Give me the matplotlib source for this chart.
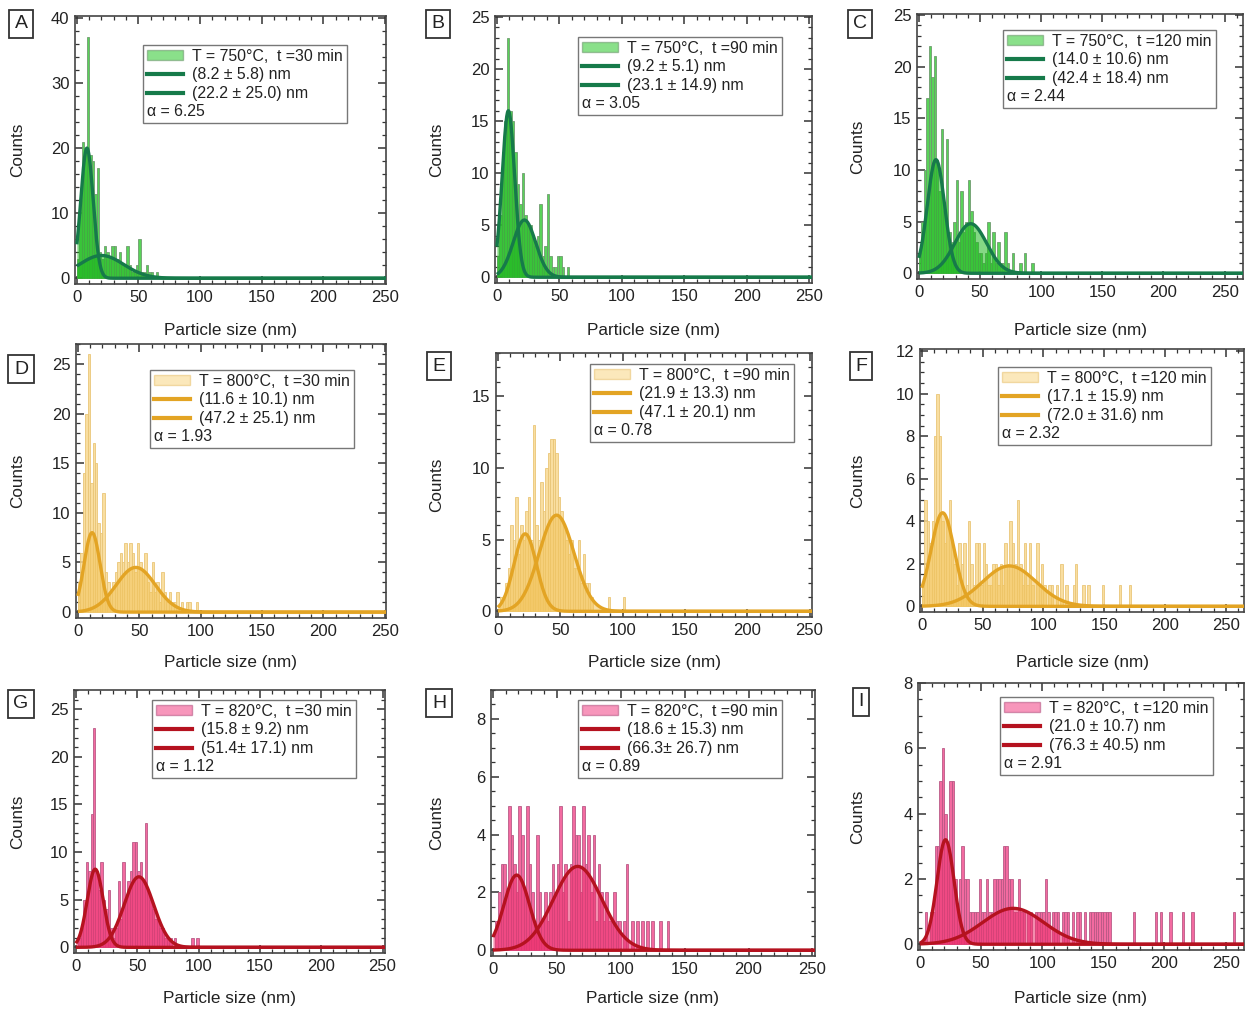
import numpy as np
import matplotlib
matplotlib.use('Agg')
import matplotlib.pyplot as plt
from matplotlib.patches import Patch
from matplotlib.lines import Line2D
from matplotlib.ticker import MultipleLocator

plt.rcParams['font.family'] = ['Liberation Sans', 'DejaVu Sans']

# ---------------- data ----------------
bin_width = 2.0  # nm, histogram bins start at 0

counts_A = [3, 12, 21, 20, 37, 19, 18, 13, 17, 4, 3, 5, 4, 3, 5, 5, 3, 4, 2, 2,
            5, 2, 1, 1, 2, 6, 1, 1, 2, 1, 1, 0, 1]
counts_B = [2, 6, 12, 15, 23, 16, 15, 12, 9, 7, 10, 6, 5, 5, 4, 3, 4, 7, 2, 3,
            8, 2, 1, 1, 2, 2, 1, 0, 1]
counts_C = [2, 5, 10, 17, 22, 19, 21, 11, 8, 14, 6, 13, 4, 3, 5, 9, 3, 8, 4, 5,
            9, 6, 4, 3, 2, 2, 1, 2, 5, 1, 4, 1, 3, 1, 1, 4, 1, 0, 2, 0,
            0, 1, 0, 2, 0, 0, 1]
counts_D = [3, 6, 14, 20, 26, 13, 17, 15, 9, 8, 12, 4, 3, 2, 3, 4, 5, 6, 5, 7,
            5, 7, 6, 4, 7, 5, 4, 6, 3, 2, 5, 2, 3, 1, 4, 2, 1, 2, 1, 1,
            2, 0, 1, 0, 1, 1, 0, 0, 1]
counts_E = [0, 1, 1, 2, 3, 6, 5, 8, 4, 6, 5, 7, 8, 5, 13, 6, 5, 9, 7, 10,
            11, 12, 12, 11, 8, 7, 6, 5, 4, 5, 3, 3, 5, 2, 4, 2, 2, 1, 0, 0,
            0, 0, 0, 0, 1, 0, 0, 0, 0, 0, 1]
counts_F = [1, 5, 4, 3, 4, 8, 10, 8, 4, 3, 4, 5, 3, 2, 1, 3, 2, 3, 1, 4,
            2, 1, 3, 3, 1, 3, 2, 1, 1, 2, 2, 1, 2, 1, 3, 2, 4, 3, 2, 5,
            2, 1, 3, 1, 3, 1, 0, 3, 1, 2, 1, 0, 1, 1, 0, 1, 0, 2, 0, 1,
            0, 0, 1, 2, 0, 0, 1, 0, 1, 0, 0, 0, 0, 0, 1, 0, 0, 0, 0, 0,
            0, 1, 0, 0, 0, 1]
counts_G = [0, 1, 2, 5, 9, 8, 14, 23, 8, 6, 9, 5, 4, 6, 2, 1, 2, 7, 3, 9,
            5, 7, 8, 11, 11, 8, 9, 7, 13, 6, 5, 4, 3, 3, 2, 2, 1, 1, 1, 0,
            1, 0, 0, 0, 0, 0, 0, 1, 0, 1]
counts_H = [0, 1, 2, 3, 3, 2, 5, 4, 3, 2, 5, 4, 2, 5, 3, 2, 1, 4, 2, 1,
            2, 1, 2, 3, 2, 3, 5, 2, 3, 1, 3, 5, 4, 4, 2, 5, 3, 4, 2, 4,
            1, 3, 2, 1, 2, 1, 1, 2, 1, 1, 0, 1, 3, 0, 1, 0, 1, 0, 1, 0,
            1, 0, 1, 0, 0, 1, 0, 0, 1]
counts_I = [0, 0, 1, 0, 1, 1, 3, 3, 5, 6, 4, 3, 5, 5, 2, 1, 2, 3, 2, 2,
            1, 1, 1, 1, 2, 1, 1, 2, 1, 1, 2, 2, 2, 2, 3, 3, 2, 2, 1, 1,
            2, 1, 1, 0, 1, 1, 0, 1, 1, 1, 1, 2, 1, 0, 1, 1, 1, 0, 1, 1,
            1, 0, 1, 0, 1, 1, 0, 1, 0, 1, 1, 1, 1, 1, 1, 1, 1, 1, 0, 0,
            0, 0, 0, 0, 0, 0, 0, 1, 0, 0, 0, 0, 0, 0, 0, 0, 1, 0, 1, 0,
            0, 0, 1, 0, 0, 0, 0, 1, 0, 0, 0, 1, 0, 0, 0, 0, 0, 0, 0, 0,
            0, 0, 0, 0, 0, 0, 0, 0, 1]

# fitted components: (centre nm, peak height, width nm)
fit_A = [(8.2, 20.0, 5.0), (20.0, 3.5, 18.0)]
fit_B = [(9.2, 16.0, 5.0), (22.0, 5.5, 9.0)]
fit_C = [(14.0, 11.0, 7.0), (42.4, 4.8, 13.0)]
fit_D = [(11.6, 8.0, 6.5), (47.2, 4.5, 16.0)]
fit_E = [(21.9, 5.4, 9.0), (47.1, 6.7, 14.0)]
fit_F = [(17.1, 4.4, 9.5), (72.0, 1.9, 22.0)]
fit_G = [(15.8, 8.2, 6.5), (51.4, 7.4, 12.0)]
fit_H = [(18.6, 2.6, 10.0), (66.3, 2.9, 19.0)]
fit_I = [(21.0, 3.2, 7.0), (76.3, 1.1, 25.0)]

titles = ['T = 750°C,  t =30 min', 'T = 750°C,  t =90 min', 'T = 750°C,  t =120 min',
          'T = 800°C,  t =30 min', 'T = 800°C,  t =90 min', 'T = 800°C,  t =120 min',
          'T = 820°C,  t =30 min', 'T = 820°C,  t =90 min', 'T = 820°C,  t =120 min']
comp1_labels = ['(8.2 ± 5.8) nm', '(9.2 ± 5.1) nm', '(14.0 ± 10.6) nm',
                '(11.6 ± 10.1) nm', '(21.9 ± 13.3) nm', '(17.1 ± 15.9) nm',
                '(15.8 ± 9.2) nm', '(18.6 ± 15.3) nm', '(21.0 ± 10.7) nm']
comp2_labels = ['(22.2 ± 25.0) nm', '(23.1 ± 14.9) nm', '(42.4 ± 18.4) nm',
                '(47.2 ± 25.1) nm', '(47.1 ± 20.1) nm', '(72.0 ± 31.6) nm',
                '(51.4± 17.1) nm', '(66.3± 26.7) nm', '(76.3 ± 40.5) nm']
alphas = ['6.25', '3.05', '2.44', '1.93', '0.78', '2.32', '1.12', '0.89', '2.91']
panel_letters = ['A', 'B', 'C', 'D', 'E', 'F', 'G', 'H', 'I']

# ---------------- layout / style ----------------
W, H = 1247, 1014
fig = plt.figure(figsize=(W / 100, H / 100), dpi=100)

all_counts = [counts_A, counts_B, counts_C, counts_D, counts_E, counts_F,
              counts_G, counts_H, counts_I]
all_fits = [fit_A, fit_B, fit_C, fit_D, fit_E, fit_F, fit_G, fit_H, fit_I]

# axes boxes in pixels: left, top, right, bottom
boxes = [(75, 16, 386, 284), (495, 16, 812, 283), (917, 14, 1243, 279),
         (76, 344, 386, 618), (496, 353, 812, 617), (920, 349, 1244, 612),
         (74, 690, 385, 953), (491, 690, 815, 956), (918, 683, 1244, 950)]
ylims = [40.3, 25.1, 25.1, 27.0, 18.0, 12.1, 27.0, 9.0, 8.0]
xmaxs = [251, 252, 265, 251, 252, 265, 252, 252, 265]
ymajor = [10, 5, 5, 5, 5, 2, 5, 2, 2]
yminor = [2, 1, 1, 1, 1, 0.5, 1, 0.5, 0.5]
legend_pos = [(143, 45), (578, 37), (1003, 30), (150, 370), (590, 364),
              (998, 367), (152, 700), (578, 700), (1000, 697)]
letter_pos = [(21, 24), (438, 24), (860, 24), (21, 369), (439, 366), (861, 366),
              (21, 704), (439, 703), (861, 702)]
ylabel_x = [18, 437, 858]
xlabel_y = [330, 663, 998]

bar_face = ['#3ccc3c', '#f9d98f', '#f2508f']
bar_edge = ['#6f9a6f', '#e9c577', '#b85a86']
under_fill = ['#1fb81f', '#f3c45a', '#ec2f6c']
curve_col = ['#167a4a', '#e3a424', '#b5121f']

for i in range(9):
    l, t, r, b = boxes[i]
    ax = fig.add_axes([l / W, 1 - b / H, (r - l) / W, (b - t) / H])
    row = i // 3
    col = i % 3
    counts = np.array(all_counts[i], dtype=float)
    edges = np.arange(len(counts)) * bin_width
    ymax = ylims[i]
    xmax = xmaxs[i]

    ax.bar(edges, counts, width=bin_width, align='edge', color=bar_face[row],
           edgecolor=bar_edge[row], linewidth=0.7, alpha=0.85, zorder=2)

    xs = np.linspace(0, xmax, 800)
    for (mu, amp, sig) in all_fits[i]:
        ys = amp * np.exp(-0.5 * ((xs - mu) / sig) ** 2)
        ax.fill_between(xs, 0, ys, color=under_fill[row], alpha=0.55, lw=0, zorder=2.5)
        ax.plot(xs, ys, color=curve_col[row], lw=2.4, zorder=3, solid_capstyle='butt')

    ax.set_xlim(-1.5, xmax)
    ax.set_ylim(-ymax * 0.022, ymax)
    ax.xaxis.set_major_locator(MultipleLocator(50))
    ax.xaxis.set_minor_locator(MultipleLocator(10))
    ax.yaxis.set_major_locator(MultipleLocator(ymajor[i]))
    ax.yaxis.set_minor_locator(MultipleLocator(yminor[i]))
    ax.tick_params(which='both', direction='in', top=True, right=True,
                   colors='#333333', labelcolor='#222222', labelsize=12)
    ax.tick_params(which='major', length=6, width=1.1, pad=4)
    ax.tick_params(which='minor', length=3, width=0.9)
    for sp in ax.spines.values():
        sp.set_color('#444444')
        sp.set_linewidth(1.2)

    # legend
    h_hist = Patch(facecolor=bar_face[row], edgecolor=bar_edge[row], alpha=0.6, lw=1.0)
    h1 = Line2D([], [], color=curve_col[row], lw=3)
    h2 = Line2D([], [], color=curve_col[row], lw=3)
    h3 = Line2D([], [], color='none')
    lx, ly = legend_pos[i]
    leg = ax.legend([h_hist, h1, h2, h3],
                    [titles[i], comp1_labels[i], comp2_labels[i], 'α = ' + alphas[i]],
                    loc='upper left', bbox_to_anchor=(lx / W, 1 - ly / H),
                    bbox_transform=fig.transFigure, fontsize=11.4,
                    frameon=True, fancybox=False, framealpha=1, edgecolor='#777777',
                    borderpad=0.25, labelspacing=0.22, handlelength=2.3,
                    handletextpad=0.55, borderaxespad=0, handleheight=0.6)
    leg.get_frame().set_linewidth(1.0)
    for txt in leg.get_texts():
        txt.set_color('#222222')
    # alpha line starts at the left edge of the box (no handle)
    try:
        column = leg._legend_handle_box.get_children()[0]
        last_row = column.get_children()[-1]
        last_row.get_children().pop(0)
    except Exception:
        pass

    # panel letter
    px, py = letter_pos[i]
    fig.text(px / W, 1 - py / H, panel_letters[i], ha='center', va='center',
             fontsize=14, color='#222222',
             bbox=dict(boxstyle='square,pad=0.28', fc='white', ec='#333333', lw=1.3))

    # axis labels
    fig.text(ylabel_x[col] / W, 1 - ((t + b) / 2) / H, 'Counts', rotation=90,
             ha='center', va='center', fontsize=12.3, color='#222222')
    fig.text(((l + r) / 2) / W, 1 - xlabel_y[row] / H, 'Particle size (nm)',
             ha='center', va='center', fontsize=12.3, color='#222222')

fig.savefig('out.png', dpi=100, facecolor='white')
